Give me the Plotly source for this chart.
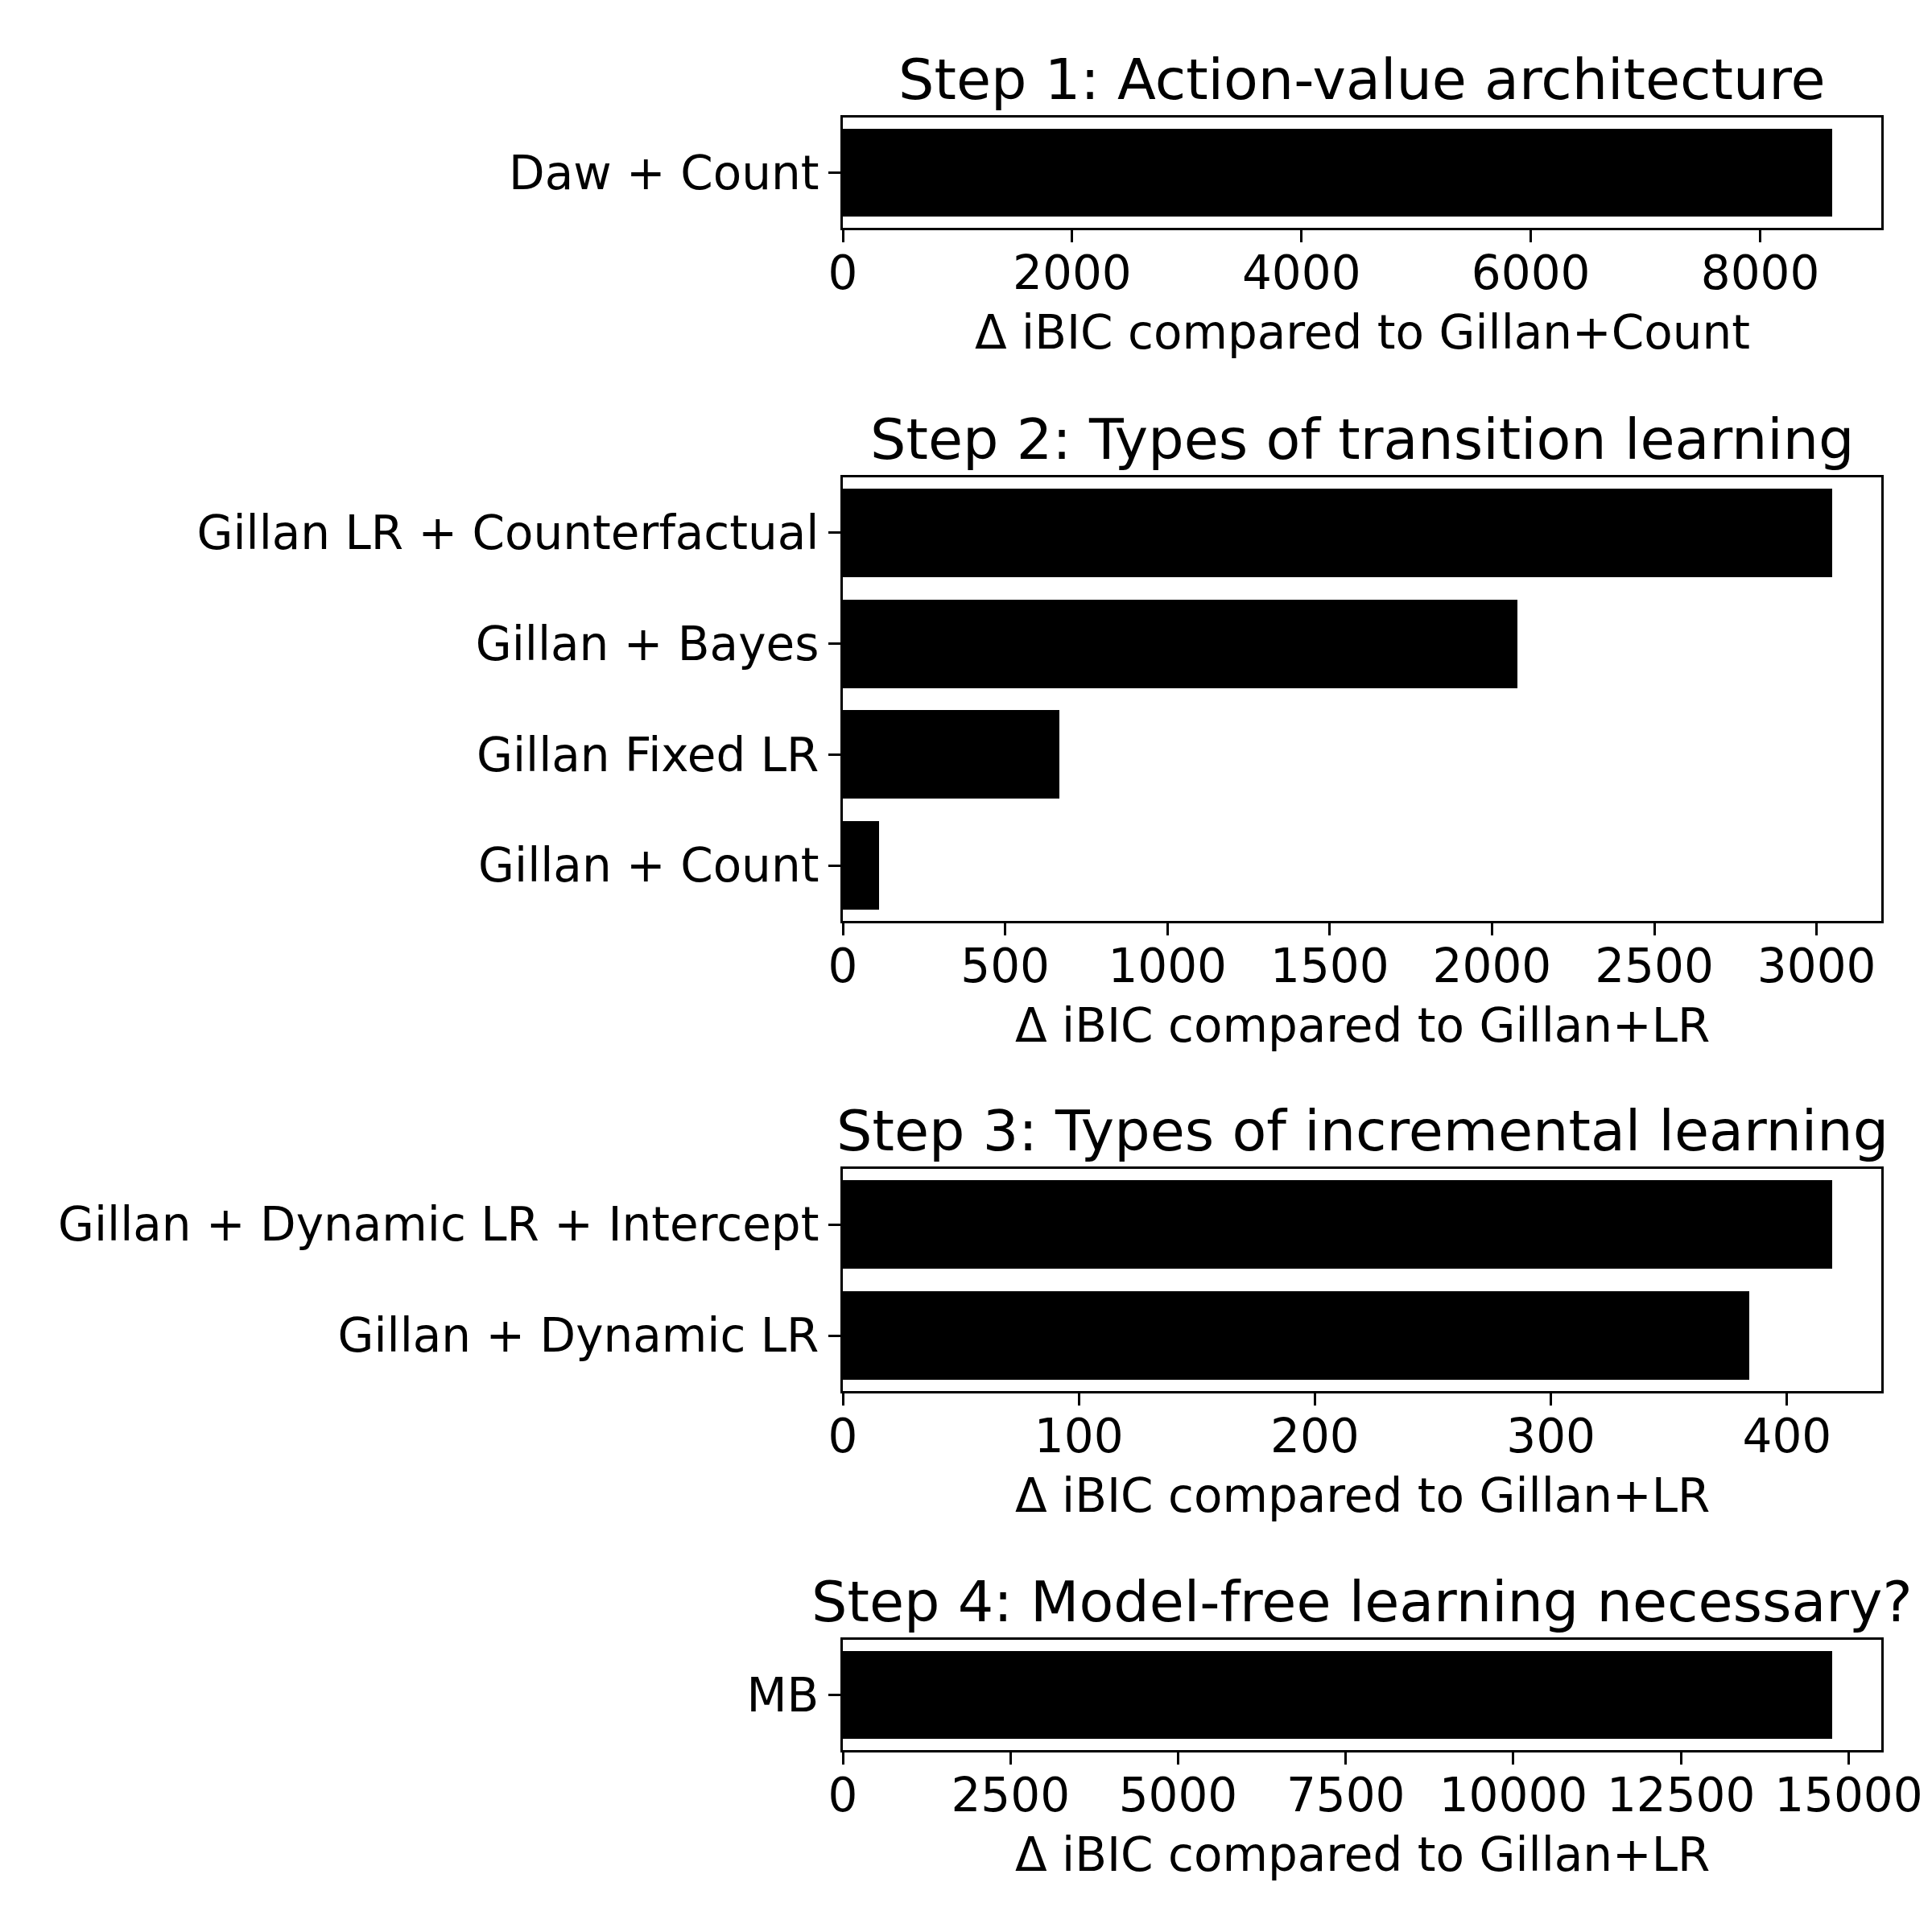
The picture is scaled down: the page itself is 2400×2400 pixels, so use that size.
import plotly.graph_objects as go

# ---- data ----
step1_labels = ["Daw + Count"]
step1_values = [8625]

step2_labels = ["Gillan LR + Counterfactual", "Gillan + Bayes", "Gillan Fixed LR", "Gillan + Count"]
step2_values = [3047, 2078, 666, 111]

step3_labels = ["Gillan + Dynamic LR + Intercept", "Gillan + Dynamic LR"]
step3_values = [419, 384]

step4_labels = ["MB"]
step4_values = [14750]

titles = ["Step 1: Action-value architecture",
          "Step 2: Types of transition learning",
          "Step 3: Types of incremental learning",
          "Step 4: Model-free learning necessary?"]
xlabels = ["Δ iBIC compared to Gillan+Count",
           "Δ iBIC compared to Gillan+LR",
           "Δ iBIC compared to Gillan+LR",
           "Δ iBIC compared to Gillan+LR"]
dticks = [2000, 500, 100, 2500]

# ---- layout geometry (pixels) ----
W = H = 2400
L, R, T, B = 1047, 2337, 146, 2174
panels_px = [(146, 283), (593, 1144), (1452, 1728), (2037, 2174)]
ph = B - T

def fy(y):
    return (B - y) / ph

FONT = "DejaVu Sans"
TICK = 58
TITLE = 70

fig = go.Figure()
data = [(step1_labels, step1_values), (step2_labels, step2_values),
        (step3_labels, step3_values), (step4_labels, step4_values)]

annotations = []
for i, ((labs, vals), (top, bot)) in enumerate(zip(data, panels_px)):
    ax = "" if i == 0 else str(i + 1)
    fig.add_trace(go.Bar(x=vals, y=labs, orientation="h", width=0.8,
                         marker=dict(color="black", line=dict(width=0)),
                         xaxis="x" + ax, yaxis="y" + ax, showlegend=False))
    n = len(labs)
    common = dict(showline=True, linecolor="black", linewidth=3, mirror=True,
                  ticks="outside", ticklen=15, tickwidth=3, tickcolor="black",
                  showgrid=False, zeroline=False,
                  tickfont=dict(family=FONT, size=TICK, color="black"))
    fig.update_layout(**{
        "xaxis" + ax: dict(domain=[0, 1], anchor="y" + ax,
                           range=[0, max(vals) * 1.05], dtick=dticks[i], tick0=0,
                           tickformat="d", ticklabelstandoff=-12, **common),
        "yaxis" + ax: dict(domain=[fy(bot), fy(top)], anchor="x" + ax,
                           type="category", categoryorder="array", categoryarray=labs,
                           range=[n - 0.5, -0.5], **common),
    })
    annotations.append(dict(text=titles[i], xref="paper", yref="paper", x=0.5, y=fy(top),
                            xanchor="center", yanchor="bottom", yshift=4, showarrow=False,
                            font=dict(family=FONT, size=TITLE, color="black")))
    annotations.append(dict(text=xlabels[i], xref="paper", yref="paper", x=0.5, y=fy(bot),
                            xanchor="center", yanchor="top", yshift=-94, showarrow=False,
                            font=dict(family=FONT, size=TICK, color="black")))

fig.update_layout(width=W, height=H, margin=dict(l=L, r=W - R, t=T, b=H - B),
                  paper_bgcolor="white", plot_bgcolor="white",
                  annotations=annotations, bargap=0)
fig.write_html("out.html")
